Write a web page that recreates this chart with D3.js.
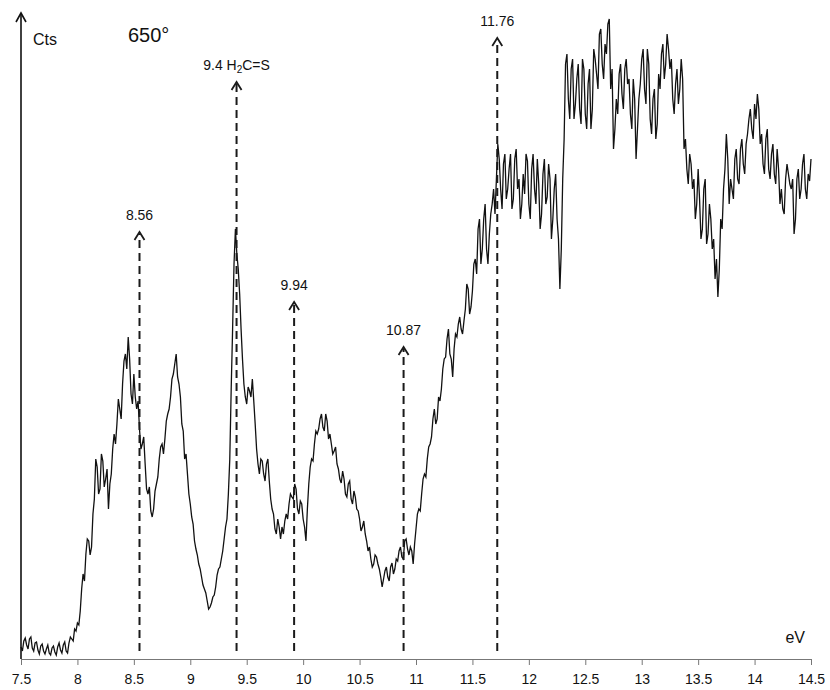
<!DOCTYPE html>
<html>
<head>
<meta charset="utf-8">
<script src="https://cdn.jsdelivr.net/npm/d3@7"></script>
<style>
  body { margin: 0; background: #fff; }
  svg { display: block; font-family: "Liberation Sans", Arial, sans-serif; }
</style>
</head>
<body>
<script>
// photoelectron spectrum at 650 degrees, counts
// one value every 0.0125 eV from 7.5 to 14.5
var eStart = 7.5;
var eStep = 0.0125;
var counts = [
  12,8,18,21,14,10,20,22,11,8,16,17,9,5,13,15,8,5,10,14,6,4,11,13,7,4,12,16,9,6,14,17,8,6,16,22,20,18,30,28,
  36,34,48,70,85,78,105,120,118,104,112,145,160,200,192,165,170,205,198,172,180,190,150,175,185,210,225,215,235,260,250,240,275,298,305,290,322,300,265,255,
  285,262,250,258,230,210,215,222,195,170,165,172,148,142,150,168,175,182,200,212,215,205,220,238,245,250,262,280,285,295,305,282,275,262,235,228,200,205,185,165,
  155,142,135,118,110,104,95,90,82,74,70,66,58,50,52,56,62,64,72,84,90,92,100,108,120,132,140,165,200,270,330,395,430,405,390,365,330,300,275,262,
  255,272,268,262,280,258,235,210,195,185,200,198,185,178,195,200,178,160,150,145,130,125,140,132,120,132,125,138,145,140,155,165,162,160,175,170,150,145,158,155,
  140,132,118,150,175,192,200,198,215,228,225,230,240,245,232,228,245,238,220,225,215,205,208,212,195,190,180,176,188,180,165,162,175,178,160,155,168,162,150,148,
  140,128,132,138,125,118,108,112,100,92,95,104,102,95,90,82,72,80,88,92,82,78,92,96,85,90,100,98,108,112,102,100,118,120,110,104,112,108,95,115,
  130,145,150,148,165,180,185,182,200,212,215,222,240,250,235,240,262,258,270,290,300,302,320,330,305,300,282,310,325,322,335,342,330,325,338,350,375,370,345,352,
  368,395,400,385,430,440,395,410,440,455,410,395,425,445,455,470,445,480,515,500,470,450,495,505,460,470,490,505,450,460,500,510,470,480,440,455,485,465,505,498,
  455,440,490,505,470,455,500,475,430,445,485,500,455,462,495,480,420,440,470,485,440,420,370,410,480,520,595,605,560,540,590,600,540,555,580,595,550,535,600,590,
  545,530,575,590,530,550,610,600,585,570,625,630,595,580,615,605,635,640,570,590,510,530,560,545,585,595,565,550,590,600,575,580,545,530,580,560,500,530,560,575,
  600,610,570,555,610,595,540,525,560,570,520,535,585,570,605,615,580,595,625,610,590,600,560,545,575,590,555,570,600,580,510,520,490,475,505,495,470,480,440,455,
  490,460,420,430,470,480,415,425,455,440,410,420,380,400,362,390,440,430,470,490,525,500,455,480,470,460,500,510,480,475,510,520,495,485,515,525,540,550,530,520,
  555,540,565,550,515,525,495,485,520,530,490,480,505,515,485,475,510,490,455,470,450,445,480,495,485,475,470,480,425,440,480,490,460,470,495,505,470,460,485,478,
  500
];
// ticks on the energy axis
var xTicks = [7.5, 8, 8.5, 9, 9.5, 10, 10.5, 11, 11.5, 12, 12.5, 13, 13.5, 14, 14.5];
// assigned bands (label, where the arrow stands, height of arrow tip)
var markerLabels = ["8.56", "9.4", "9.94", "10.87", "11.76"];
var markerEnergy = [8.55, 9.41, 9.92, 10.89, 11.72];
var markerTop = [427, 577, 357, 312, 621];

var width = 830;
var height = 690;
// plot box (window.top is taken, so plotTop)
var plotLeft = 21, plotRight = 811, plotBottom = 659, plotTop = 13;

var svg = d3.select("body")
            .append("svg")
            .attr("width", width)
            .attr("height", height);

var x = d3.scaleLinear().domain([7.5, 14.5]).range([plotLeft, plotRight]);
var y = d3.scaleLinear().domain([0, 646]).range([plotBottom, plotTop]);

// x axis
var xAxis = d3.axisBottom(x)
              .tickValues(xTicks)
              .tickSize(6)
              .tickSizeOuter(0)
              .tickFormat(function(d) { return d; });

var gx = svg.append("g")
            .attr("transform", "translate(0," + plotBottom + ")")
            .call(xAxis);
gx.select(".domain").attr("stroke", "#777").attr("stroke-width", 1);
gx.selectAll(".tick line").attr("stroke", "#777");
gx.selectAll(".tick text")
  .attr("fill", "#111")
  .attr("font-size", 14)
  .attr("dy", "1.15em");

// the spectrum
var line = d3.line()
             .x(function(d, i) { return x(eStart + i * eStep); })
             .y(function(d) { return y(d); });

svg.append("path")
   .datum(counts)
   .attr("d", line)
   .attr("fill", "none")
   .attr("stroke", "#111")
   .attr("stroke-width", 1.3)
   .attr("stroke-linejoin", "miter");

// y axis with open arrow
svg.append("line")
   .attr("x1", plotLeft).attr("x2", plotLeft)
   .attr("y1", plotBottom).attr("y2", plotTop)
   .attr("stroke", "#111")
   .attr("stroke-width", 1.6);
svg.append("path")
   .attr("d", "M" + (plotLeft - 5) + "," + (plotTop + 9) + "L" + plotLeft + "," + plotTop + "L" + (plotLeft + 5) + "," + (plotTop + 9))
   .attr("fill", "none")
   .attr("stroke", "#111")
   .attr("stroke-width", 1.6);

svg.append("text")
   .attr("x", 33).attr("y", 45)
   .attr("font-size", 16)
   .attr("fill", "#111")
   .text("Cts");
svg.append("text")
   .attr("x", 128).attr("y", 42)
   .attr("font-size", 20)
   .attr("fill", "#111")
   .text("650°");
svg.append("text")
   .attr("x", 805).attr("y", 643)
   .attr("text-anchor", "end")
   .attr("font-size", 16)
   .attr("fill", "#111")
   .text("eV");

// dashed markers with arrow heads
var markers = svg.selectAll("g.marker")
                 .data(markerEnergy)
                 .enter().append("g")
                 .attr("class", "marker");

markers.append("line")
       .attr("x1", function(d) { return x(d); })
       .attr("x2", function(d) { return x(d); })
       .attr("y1", 651)
       .attr("y2", function(d, i) { return y(markerTop[i]) + 2; })
       .attr("stroke", "#1a1a1a")
       .attr("stroke-width", 2)
       .attr("stroke-dasharray", "8,5");

markers.append("path")
       .attr("d", function(d, i) {
         var cx = x(d), ty = y(markerTop[i]);
         return "M" + (cx - 5) + "," + (ty + 8) + "L" + cx + "," + ty + "L" + (cx + 5) + "," + (ty + 8);
       })
       .attr("fill", "none")
       .attr("stroke", "#1a1a1a")
       .attr("stroke-width", 1.8);

var labels = markers.append("text")
       .attr("x", function(d) { return x(d); })
       .attr("y", function(d, i) { return y(markerTop[i]) - 12; })
       .attr("text-anchor", "middle")
       .attr("font-size", 14)
       .attr("fill", "#111");

labels.append("tspan").text(function(d, i) { return markerLabels[i]; });

// the H2C=S assignment on the 9.4 band
var hcs = labels.filter(function(d, i) { return i == 1; });
hcs.append("tspan").text(" H");
hcs.append("tspan").attr("font-size", 10).attr("dy", 3).text("2");
hcs.append("tspan").attr("dy", -3).text("C=S");
</script>
</body>
</html>
